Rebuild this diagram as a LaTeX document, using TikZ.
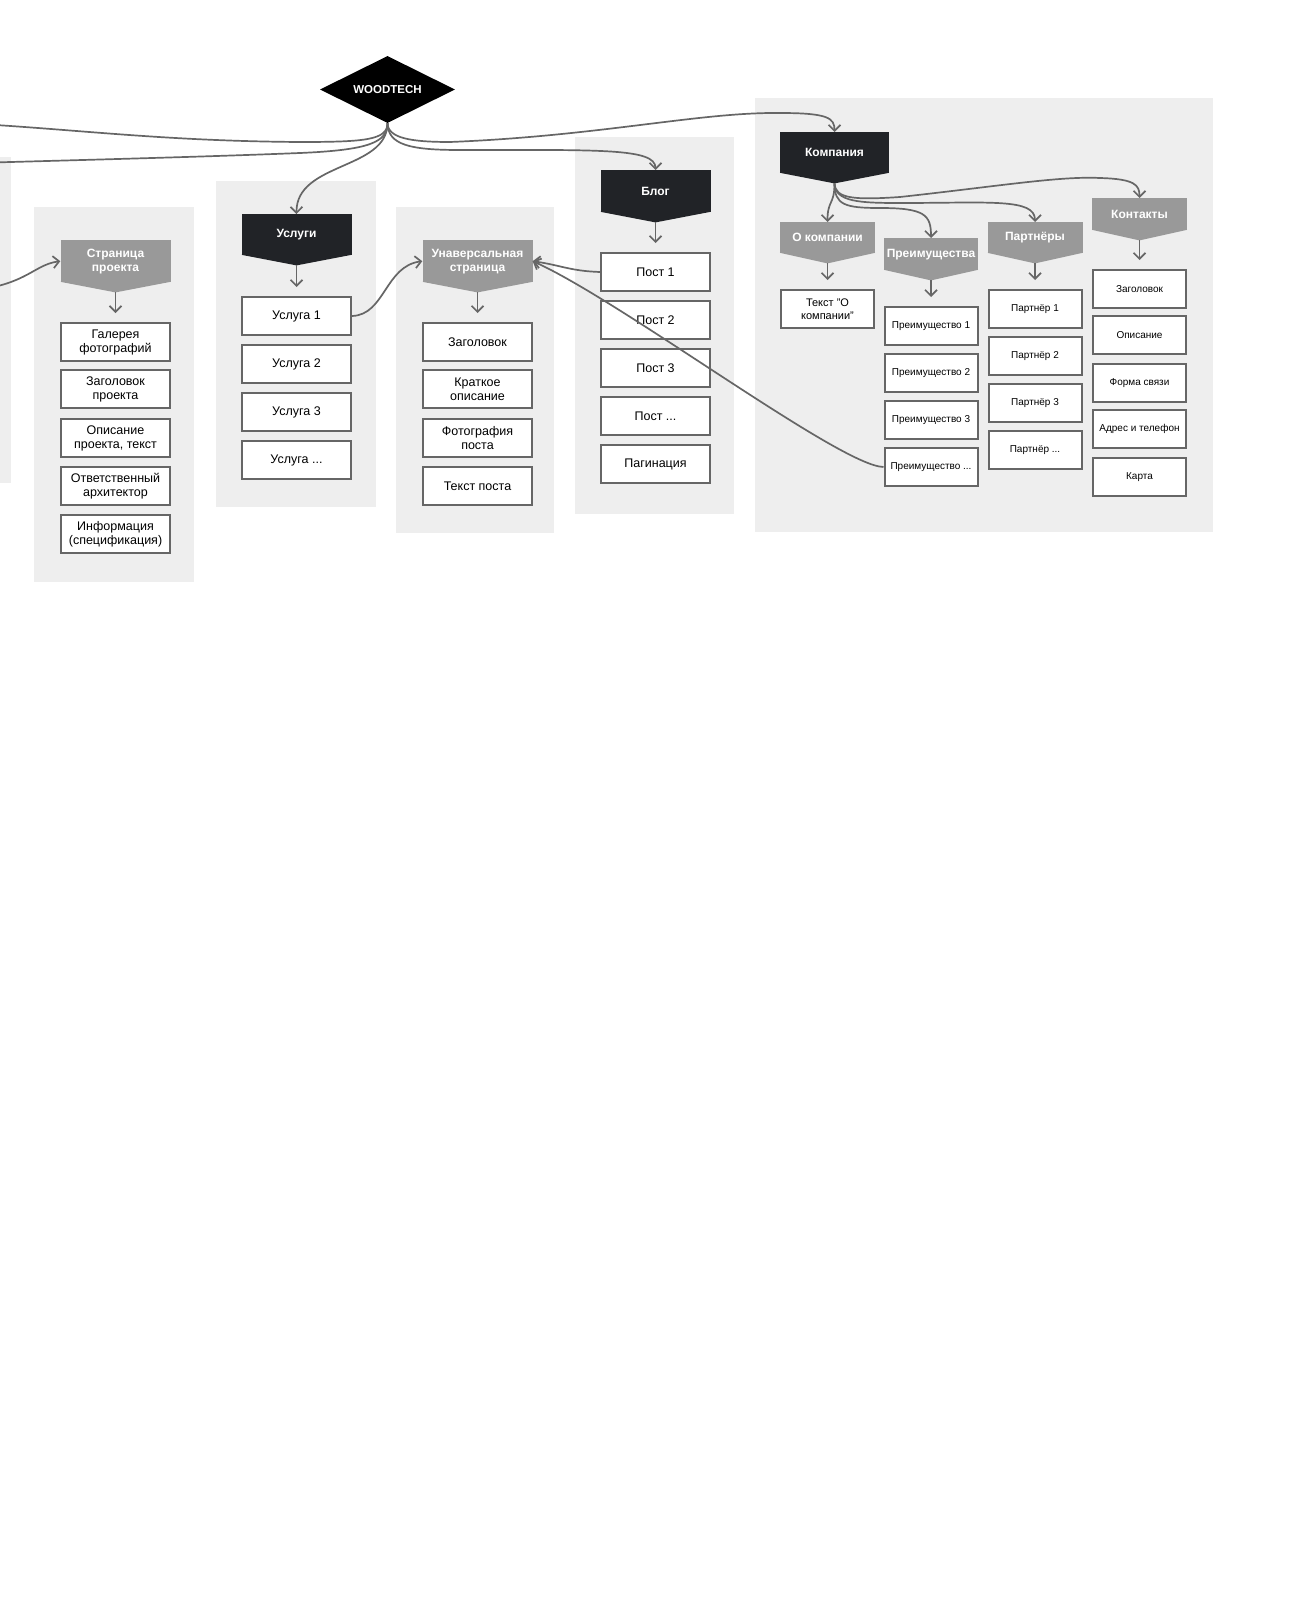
\documentclass[tikz,border=0pt]{standalone}
\usepackage{fontspec}
\setmainfont{Liberation Sans}
\usetikzlibrary{arrows.meta,shapes.geometric,calc}
\definecolor{panelbg}{HTML}{EEEEEE}
\definecolor{darkhdr}{HTML}{212327}
\definecolor{greyhdr}{HTML}{999999}
\definecolor{linec}{HTML}{666666}
\tikzset{
  panel/.style={fill=panelbg},
  hdrbox/.style={text=white, font=\bfseries\fontsize{12}{14}\selectfont, align=center, inner sep=0pt},
  card/.style={draw=linec, line width=2pt, fill=white, minimum width=109pt, minimum height=38pt,
     inner sep=0pt, align=center, anchor=north, font=\fontsize{12.5}{14}\selectfont},
  cardsm/.style={card, minimum width=93pt, font=\fontsize{10}{13}\selectfont},
  link/.style={draw=linec, line width=1.7pt},
  conn/.style={link, -{Straight Barb[length=6pt,width=12pt]}},
}
\newcommand\mkhdr[7]{%
  \node[hdrbox, fill=#2, minimum width=#5pt, minimum height=#6pt, anchor=north] (#1) at (#3,#4) {#7};
  \fill[#2] ([yshift=0.6pt]#1.south west) -- ([yshift=0.6pt]#1.south east) -- ([yshift=-10pt]#1.south) -- cycle;
  \coordinate (#1-tip) at ([yshift=-10pt]#1.south);}
\begin{document}
\begin{tikzpicture}[x=1pt,y=-1pt]
\useasboundingbox[fill=white] (0,0) rectangle (1300,1600);

% panels
\fill[panel] (-50,157) rectangle (11,483);
\fill[panel] (34,207) rectangle (194,582);
\fill[panel] (216,181) rectangle (376,507);
\fill[panel] (396,207) rectangle (554,533);
\fill[panel] (575,137) rectangle (734,514);
\fill[panel] (755,98) rectangle (1213,532);

% root
\node[diamond, fill=black, text=white, aspect=2, inner sep=0pt, minimum width=135pt, minimum height=67pt,
  font=\bfseries\fontsize{11.5}{13}\selectfont] (wood) at (387.5,89.5) {WOODTECH};

% column: Страница проекта
\mkhdr{sp}{greyhdr}{115.5}{240}{110}{42}{Страница\\проекта}
\node[card] (sp1) at (115.5,322) {Галерея\\фотографий};
\node[card] (sp2) at (115.5,369) {Заголовок\\проекта};
\node[card] (sp3) at (115.5,418) {Описание\\проекта, текст};
\node[card] (sp4) at (115.5,466) {Ответственный\\архитектор};
\node[card] (sp5) at (115.5,514) {Информация\\(спецификация)};

% column: Услуги
\mkhdr{us}{darkhdr}{296.5}{214}{110}{41}{Услуги}
\node[card] (us1) at (296.5,296) {Услуга 1};
\node[card] (us2) at (296.5,344) {Услуга 2};
\node[card] (us3) at (296.5,392) {Услуга 3};
\node[card] (us4) at (296.5,440) {Услуга ...};

% column: Унаверсальная страница
\mkhdr{un}{greyhdr}{477.5}{240}{110}{42}{Унаверсальная\\страница}
\node[card] (un1) at (477.5,322) {Заголовок};
\node[card] (un2) at (477.5,369) {Краткое\\описание};
\node[card] (un3) at (477.5,418) {Фотография\\поста};
\node[card] (un4) at (477.5,466) {Текст поста};

% column: Блог
\mkhdr{bl}{darkhdr}{655.5}{170}{110}{42}{Блог}
\node[card] (bl1) at (655.5,252) {Пост 1};
\node[card] (bl2) at (655.5,300) {Пост 2};
\node[card] (bl3) at (655.5,348) {Пост 3};
\node[card] (bl4) at (655.5,396) {Пост ...};
\node[card] (bl5) at (655.5,444) {Пагинация};

% Компания
\mkhdr{km}{darkhdr}{834.5}{132}{109}{41}{Компания}
\mkhdr{ok}{greyhdr}{827.5}{222}{95}{31}{О компании}
\node[cardsm, font=\fontsize{11}{13}\selectfont] (ok1) at (827.5,289) {Текст "О\\компании"};

\mkhdr{pr}{greyhdr}{931}{238}{94}{32}{Преимущества}
\node[cardsm] (pr1) at (931,306) {Преимущество 1};
\node[cardsm] (pr2) at (931,353) {Преимущество 2};
\node[cardsm] (pr3) at (931,400) {Преимущество 3};
\node[cardsm] (pr4) at (931,447) {Преимущество ...};

\mkhdr{pa}{greyhdr}{1035}{222}{95}{31}{Партнёры}
\node[cardsm] (pa1) at (1035,289) {Партнёр 1};
\node[cardsm] (pa2) at (1035,336) {Партнёр 2};
\node[cardsm] (pa3) at (1035,383) {Партнёр 3};
\node[cardsm] (pa4) at (1035,430) {Партнёр ...};

\mkhdr{ko}{greyhdr}{1139.5}{198}{95}{32}{Контакты}
\node[cardsm] (ko1) at (1139.5,269) {Заголовок};
\node[cardsm] (ko2) at (1139.5,315) {Описание};
\node[cardsm] (ko3) at (1139.5,363) {Форма связи};
\node[cardsm] (ko4) at (1139.5,409) {Адрес и телефон};
\node[cardsm] (ko5) at (1139.5,457) {Карта};

% vertical arrows header -> first card
\foreach \h/\c in {sp/sp1, us/us1, un/un1, bl/bl1, ok/ok1, pr/pr1, pa/pa1, ko/ko1}
  \draw[conn] (\h-tip) -- ([yshift=9pt]\c.north);

% off-canvas ends
\coordinate (offa) at (-60,122);
\coordinate (offb) at (-60,164);
\coordinate (offc) at (-60,292);

% root connectors
\draw[link] (wood.south) .. controls (387.5,140) and (365,142) .. (300,142)
   .. controls (150,141) and (60,127) .. (offa);
\draw[link] (wood.south) .. controls (387.5,142) and (370,150) .. (300,153)
   .. controls (200,157) and (80,160) .. (offb);
\draw[conn] (wood.south) .. controls (387.5,170) and (296,162) .. (us.north);
\draw[conn] (wood.south) .. controls (388,145) and (410,150) .. (460,150)
   .. controls (600,150) and (655.5,148) .. (bl.north);
\draw[conn] (wood.south) .. controls (388,138) and (410,142) .. (450,142)
   .. controls (600,136) and (700,112) .. (780,113)
   .. controls (828,113) and (834.5,118) .. (km.north);

% other connectors
\draw[conn] (offc) .. controls (25,292) and (30,265) .. (sp.west);
\draw[conn] (us1.east) .. controls (385,315) and (385,266) .. (un.west);
\draw[conn] (bl1.west) .. controls (570,271) and (560,265) .. (un.east);
\draw[conn] (pr4.west) .. controls (840,466) and (620,300) .. (un.east);

% Компания fan
\draw[conn] (km-tip) .. controls (834.5,205) and (827.5,200) .. (ok.north);
\draw[conn] (km-tip) .. controls (834.5,205) and (845,208) .. (880,208)
   .. controls (925,208) and (931,215) .. (pr.north);
\draw[conn] (km-tip) .. controls (835,202) and (860,203) .. (900,203)
   .. controls (990,203) and (1035,198) .. (pa.north);
\draw[conn] (km-tip) .. controls (835,199) and (855,200) .. (900,197)
   .. controls (1000,186) and (1060,176) .. (1100,178)
   .. controls (1135,179) and (1139.5,185) .. (ko.north);
\end{tikzpicture}
\end{document}
